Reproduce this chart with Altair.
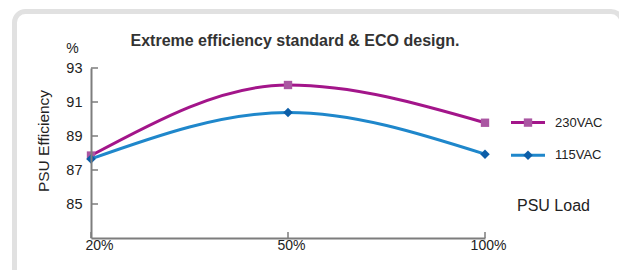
import altair as alt
import pandas as pd

loads = ["20%", "50%", "100%"]
eff_230 = [87.85, 92.0, 89.78]
eff_115 = [87.65, 90.38, 87.93]
y_ticks = [85, 87, 89, 91, 93]
x_ticks = ["20%", "50%", "100%"]

W, H = 394, 170
FONT = "Liberation Sans"
AXIS_GRAY = "#7d7d7d"
MAG_LINE, MAG_MARK = "#a3158a", "#aa56a2"
BLUE_LINE, BLUE_MARK = "#1f87cb", "#0c5ea8"

df = pd.DataFrame({
    "load": loads * 2,
    "eff": eff_230 + eff_115,
    "series": ["230VAC"] * 3 + ["115VAC"] * 3,
})
one = pd.DataFrame({"a": [0]})

xs = alt.Scale(type="point", domain=loads, padding=0)
ys = alt.Scale(domain=[83, 93], nice=False, zero=False)

x_axis = alt.Axis(title=None, ticks=False, domainColor=AXIS_GRAY, domainWidth=2,
                  labelFontSize=14, labelColor="#222", labelFont=FONT, labelAngle=0,
                  labelPadding=7, zindex=1, labelFlush=False, labelAlign="center",
                  labelOffset={"condition": {"test": "datum.value == '20%'", "value": 8}, "value": 3})
y_axis = alt.Axis(title=None, ticks=False, values=y_ticks, domainColor=AXIS_GRAY, domainWidth=2,
                  labelFontSize=14.5, labelColor="#222", labelFont=FONT, labelPadding=9, grid=False,
                  zindex=1)

frame = alt.Chart(one).mark_rect(
    filled=False, stroke="#e1e1e1", strokeWidth=5, cornerRadius=11
).encode(x=alt.value(-76.5), x2=alt.value(531), y=alt.value(-56.5), y2=alt.value(240))

base = alt.Chart(df).encode(
    x=alt.X("load:N", scale=xs, axis=x_axis, sort=loads),
    y=alt.Y("eff:Q", scale=ys, axis=y_axis),
)

def series(name, line_col, mark_col, shape, size):
    d = base.transform_filter(alt.datum.series == name)
    ln = d.mark_line(interpolate="monotone", color=line_col, strokeWidth=3)
    pt = d.mark_point(filled=True, shape=shape, size=size, color=mark_col, opacity=1)
    return ln + pt

s230 = series("230VAC", MAG_LINE, MAG_MARK, "square", 70)
s115 = series("115VAC", BLUE_LINE, BLUE_MARK, "diamond", 90)

ytick_df = pd.DataFrame({"v": y_ticks})
yt = alt.Chart(ytick_df).mark_rule(color=AXIS_GRAY, strokeWidth=1.5).encode(
    y=alt.Y("v:Q", scale=ys), x=alt.value(0), x2=alt.value(7))
xtick_df = pd.DataFrame({"v": x_ticks})
xt = alt.Chart(xtick_df).mark_rule(color=AXIS_GRAY, strokeWidth=1.5).encode(
    x=alt.X("v:N", scale=xs, sort=loads), y=alt.value(H - 6), y2=alt.value(H))

def txt(s, x, y, size, color="#222", **kw):
    return alt.Chart(one).mark_text(text=s, fontSize=size, font=FONT, color=color, **kw).encode(
        x=alt.value(x), y=alt.value(y))

title = txt("Extreme efficiency standard & ECO design.", 204, -22, 16, color="#333",
            fontWeight="bold", align="center", baseline="alphabetic")
pct = txt("%", -18.5, -15, 14, align="center", baseline="alphabetic")
ylab = txt("PSU Efficiency", -47, 73, 15.5, align="center", baseline="middle", angle=270)
load_lab = txt("PSU Load", 426, 142.5, 16, align="left", baseline="alphabetic")

# legend
def leg(name, y, line_col, mark_col, shape, size):
    l = alt.Chart(one).mark_rule(color=line_col, strokeWidth=3).encode(
        x=alt.value(420), x2=alt.value(454), y=alt.value(y))
    p = alt.Chart(one).mark_point(filled=True, shape=shape, size=size, color=mark_col, opacity=1).encode(
        x=alt.value(437), y=alt.value(y))
    t = txt(name, 464, y, 13, align="left", baseline="middle")
    return l + p + t

leg230 = leg("230VAC", 54.6, MAG_LINE, MAG_MARK, "square", 70)
leg115 = leg("115VAC", 87.3, BLUE_LINE, BLUE_MARK, "diamond", 90)

chart = alt.layer(frame, yt, xt, s230, s115, title, pct, ylab, load_lab, leg230, leg115).properties(
    width=W, height=H,
    autosize=alt.AutoSizeParams(type="none"),
    padding={"left": 83, "top": 60, "right": 134, "bottom": 32},
    background="white",
).configure_view(strokeWidth=0)

chart.save("out.html", embed_options={"renderer": "svg", "actions": False})
